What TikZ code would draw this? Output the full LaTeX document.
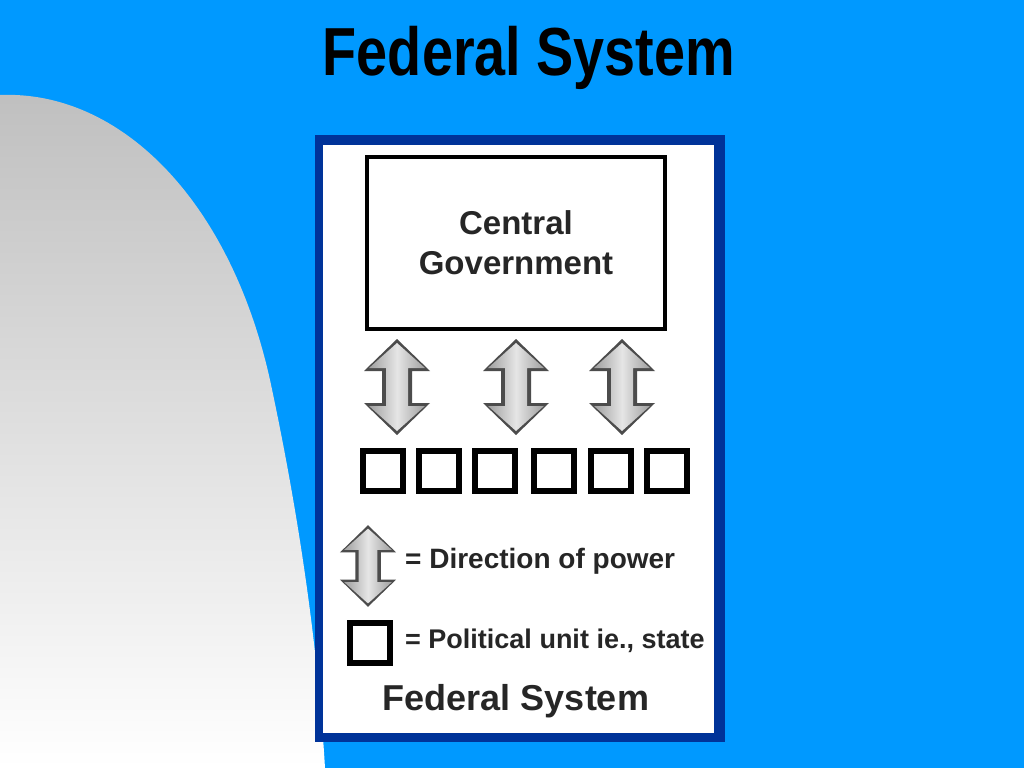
\documentclass[tikz,border=0pt]{standalone}
\usepackage{fontspec}
\setmainfont{Liberation Sans}
\begin{document}
\begin{tikzpicture}[x=1pt,y=-1pt,
  sq/.style={draw=black,line width=5.5pt,fill=white,minimum size=40pt,inner sep=0pt},
  lbl/.style={font=\bfseries\fontsize{29}{32}\selectfont,text=black!85,anchor=west,inner sep=0pt},
  dbl/.pic={\fill[gray!60!black] (0,-48) -- (33,-16) -- (15,-16) -- (15,16) -- (33,16) -- (0,48) -- (-33,16) -- (-15,16) -- (-15,-16) -- (-33,-16) -- cycle;
    \shade[left color=gray!75,right color=gray!75,middle color=gray!20] (0,-44) -- (28,-19) -- (11,-19) -- (11,19) -- (28,19) -- (0,44) -- (-28,19) -- (-11,19) -- (-11,-19) -- (-28,-19) -- cycle;}]
\useasboundingbox (0,0) rectangle (1024,768);
\fill[color={rgb,255:red,0;green,153;blue,255}] (0,0) rectangle (1024,768);
\shade[top color=gray!50,bottom color=white] (0,768) -- (0,95) .. controls (120,90) and (230,200) .. (270,380) .. controls (300,520) and (318,650) .. (325,768) -- cycle;
\node[font=\bfseries\fontsize{68}{76}\selectfont,xscale=0.82] (title) at (529,58) {Federal System};
\fill[color={rgb,255:red,0;green,51;blue,153}] (315,135) rectangle (725,742);
\fill[white] (323,145) rectangle (714,733);
\node[draw=black,line width=4.5pt,minimum width=298pt,minimum height=172pt,inner sep=0pt,align=center,font=\bfseries\fontsize{33}{40}\selectfont,text=black!85] (cg) at (516,243) {Central\\Government};
\foreach \x/\n in {397/a1,516/a2,622/a3} \pic at (\x,387) {dbl};
\foreach \x/\n in {383/s1,439/s2,495/s3,554/s4,611/s5,667/s6} \node[sq] (\n) at (\x,471) {};
\pic[scale=0.85] at (368,566) {dbl};
\node[lbl,font=\bfseries\fontsize{28}{32}\selectfont] (l1) at (405,561) {= Direction of power};
\node[sq] (ls) at (370,643) {};
\node[lbl,font=\bfseries\fontsize{27}{30}\selectfont] (l2) at (405,641) {= Political unit ie., state};
\node[font=\bfseries\fontsize{36}{40}\selectfont,text=black!85] (fs) at (516,701) {Federal System};
\end{tikzpicture}
\end{document}
